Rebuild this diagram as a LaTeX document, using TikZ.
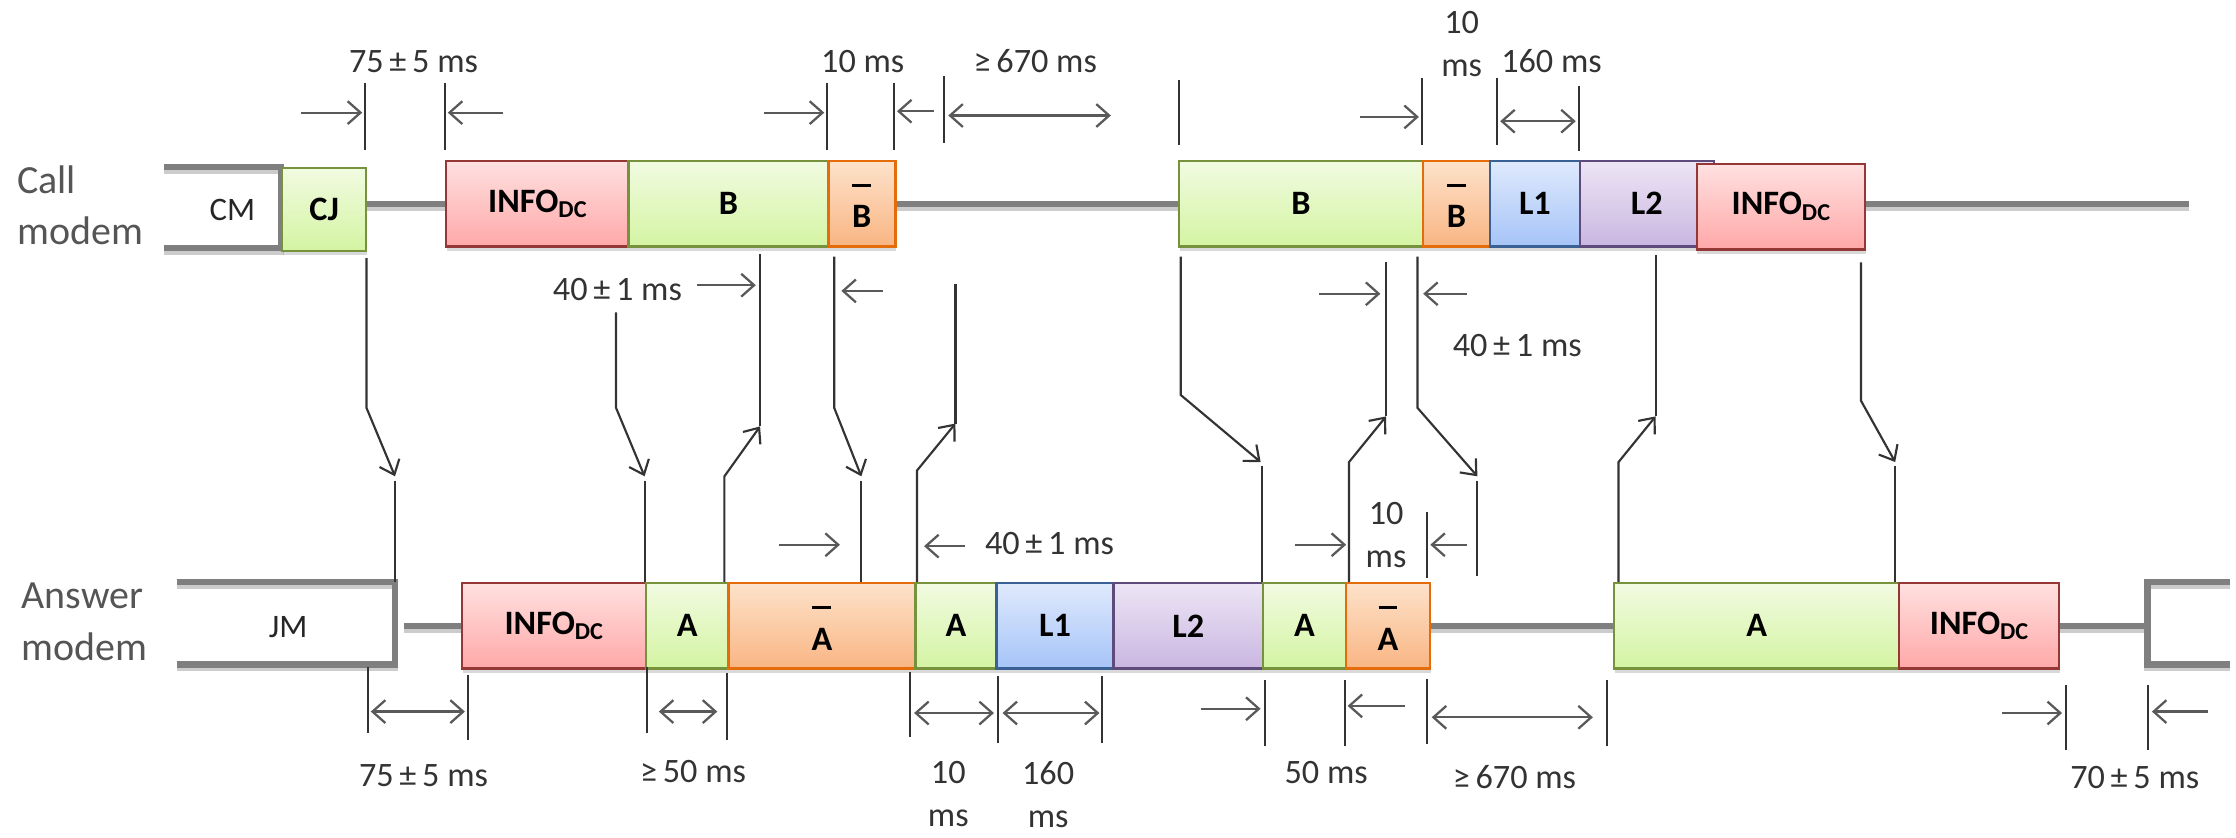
\documentclass[tikz,border=0pt]{standalone}
\usepackage{fontspec}
\setmainfont{Carlito}
\usetikzlibrary{arrows.meta,shadows}

\definecolor{grnT}{HTML}{F1FBE1}
\definecolor{grnB}{HTML}{D4F4A2}
\definecolor{grnD}{HTML}{76923C}
\definecolor{pnkT}{HTML}{FFE0E0}
\definecolor{pnkB}{HTML}{FFA8A8}
\definecolor{pnkD}{HTML}{953735}
\definecolor{orgT}{HTML}{FDE2CA}
\definecolor{orgB}{HTML}{F9B583}
\definecolor{orgD}{HTML}{E46C0A}
\definecolor{bluT}{HTML}{DFE9FC}
\definecolor{bluB}{HTML}{A6C4F8}
\definecolor{bluD}{HTML}{3A6195}
\definecolor{purT}{HTML}{ECE5F5}
\definecolor{purB}{HTML}{CAB6E1}
\definecolor{purD}{HTML}{5F4A7C}
\definecolor{busgray}{HTML}{7F7F7F}
\definecolor{ink}{HTML}{333333}
\definecolor{dimgray}{HTML}{595959}
\definecolor{modgray}{HTML}{555555}

\newcommand\bxfont{\fontsize{24}{28}\selectfont\bfseries}
\newcommand\dimfont{\fontsize{24}{30}\selectfont}
\newcommand\modfont{\fontsize{28}{36}\selectfont}
\newcommand\infodc{INFO\raisebox{-4pt}{\fontsize{17}{17}\selectfont DC}}
\newcommand\ovl[1]{\ooalign{\hfil\raisebox{29pt}{\rule{0.55em}{1.6pt}}\hfil\cr#1\cr}}

\begin{document}
\begin{tikzpicture}[x=1pt,y=-1pt,
  seg/.style={draw, line width=1.7pt, minimum height=60pt, inner sep=0pt,
    anchor=north west, font=\bxfont, text=black,
    drop shadow={shadow xshift=0.5pt, shadow yshift=-3pt, opacity=0.3}},
  grn/.style={seg, top color=grnT, bottom color=grnB, draw=grnD},
  pnk/.style={seg, top color=pnkT, bottom color=pnkB, draw=pnkD},
  org/.style={seg, top color=orgT, bottom color=orgB, draw=orgD},
  blu/.style={seg, top color=bluT, bottom color=bluB, draw=bluD},
  pur/.style={seg, top color=purT, bottom color=purB, draw=purD},
  barred/.style={text height=34pt, text depth=0pt},
  bus/.style={draw=busgray, line width=4.5pt},
  busshade/.style={draw=black!20, line width=4.5pt, yshift=-2.5pt},
  wire/.style={draw=ink, line width=1.5pt},
  arr/.style={-{Straight Barb[length=9pt,width=15pt]}},
  tick/.style={draw=ink, line width=1.4pt},
  dim/.style={draw=dimgray, line width=1.6pt, -{Straight Barb[length=9pt,width=16pt]}},
  ddim/.style={draw=dimgray, line width=1.6pt,
    {Straight Barb[length=9pt,width=16pt]}-{Straight Barb[length=9pt,width=16pt]}},
  lbl/.style={font=\dimfont, text=ink, inner sep=0pt, align=center},
  modem/.style={font=\modfont, text=modgray, align=left, inner sep=0pt, anchor=west}]

\useasboundingbox (0,0) rectangle (1568,587);

% ---------- modem names ----------
\node[modem] (callname) at (12,144) {Call\\modem};
\node[modem] (ansname) at (15,436) {Answer\\modem};

% ---------- idle lines and brackets (shadow first) ----------
\draw[busshade] (115,117) -- (197,117) -- (197,174) -- (115,174);
\draw[busshade] (256,143) -- (312,143);
\draw[busshade] (627,143) -- (826,143);
\draw[busshade] (1307,143) -- (1535,143);
\draw[busshade] (124,408) -- (277,408) -- (277,466) -- (124,466);
\draw[busshade] (283,439) -- (323,439);
\draw[busshade] (1002,439) -- (1131,439);
\draw[busshade] (1443,439) -- (1506,439);
\draw[busshade] (1564,408) -- (1506,408) -- (1506,466) -- (1564,466);
\draw[bus] (115,117) -- (197,117) -- (197,174) -- (115,174);
\draw[bus] (256,143) -- (312,143);
\draw[bus] (627,143) -- (826,143);
\draw[bus] (1307,143) -- (1535,143);
\draw[bus] (124,408) -- (277,408) -- (277,466) -- (124,466);
\draw[bus] (283,439) -- (323,439);
\draw[bus] (1002,439) -- (1131,439);
\draw[bus] (1443,439) -- (1506,439);
\draw[bus] (1564,408) -- (1506,408) -- (1506,466) -- (1564,466);

\node[font=\fontsize{23}{26}\selectfont, text=black!85, inner sep=0pt] (cm) at (163,147) {CM};
\node[font=\fontsize{23}{26}\selectfont, text=black!85, inner sep=0pt] (jm) at (202,440) {JM};

% ---------- call modem segments ----------
\node[grn, minimum width=59pt, minimum height=58pt] (cj) at (197,117) {CJ};
\node[pnk, minimum width=128pt] (info1) at (312,112) {\infodc};
\node[grn, minimum width=140pt] (b1) at (440,112) {B};
\node[org, minimum width=47pt, barred] (bb1) at (580,112) {\ovl{B}};
\node[grn, minimum width=171pt] (b2) at (826,112) {B};
\node[org, minimum width=47pt, barred] (bb2) at (997,112) {\ovl{B}};
\node[blu, minimum width=63pt] (l1t) at (1044,112) {L1};
\node[pur, minimum width=94pt] (l2t) at (1107,112) {L2};
\node[pnk, minimum width=118pt] (info2) at (1189,114) {\infodc};

% ---------- answer modem segments ----------
\node[pnk, minimum width=129pt] (info3) at (323,408) {\infodc};
\node[grn, minimum width=58pt] (a1) at (452,408) {A};
\node[org, minimum width=131pt, barred] (ab1) at (510,408) {\ovl{A}};
\node[grn, minimum width=57pt] (a2) at (641,408) {A};
\node[blu, minimum width=82pt] (l1b) at (698,408) {L1};
\node[pur, minimum width=105pt] (l2b) at (780,408) {L2};
\node[grn, minimum width=58pt] (a3) at (885,408) {A};
\node[org, minimum width=59pt, barred] (ab2) at (943,408) {\ovl{A}};
\node[grn, minimum width=200pt] (a4) at (1131,408) {A};
\node[pnk, minimum width=112pt] (info4) at (1331,408) {\infodc};

% ---------- signals exchanged between the modems ----------
% call -> answer
\coordinate (d1a) at (257,181);  \coordinate (d1b) at (257,286);  \coordinate (d1c) at (277,334);  \coordinate (d1d) at (277,337);
\coordinate (d2a) at (432,219);  \coordinate (d2b) at (432,286);  \coordinate (d2c) at (452,334);  \coordinate (d2d) at (452,337);
\coordinate (d3a) at (585,180);  \coordinate (d3b) at (585,286);  \coordinate (d3c) at (604,334);  \coordinate (d3d) at (604,337);
\coordinate (d4a) at (828,180);  \coordinate (d4b) at (828,277);  \coordinate (d4c) at (884,324);  \coordinate (d4d) at (885,327);
\coordinate (d5a) at (994,180);  \coordinate (d5b) at (994,286);  \coordinate (d5c) at (1036,334); \coordinate (d5d) at (1036,337);
\coordinate (d6a) at (1305,184); \coordinate (d6b) at (1305,281); \coordinate (d6c) at (1329,324); \coordinate (d6d) at (1329,327);
\coordinate (d5e) at (1036,404);
\draw[wire,arr] (d1a) -- (d1b) -- (d1c);  \draw[wire] (d1d) -- (d1d |- a1.north);
\draw[wire,arr] (d2a) -- (d2b) -- (d2c);  \draw[wire] (d2d) -- (d2d |- a1.north);
\draw[wire,arr] (d3a) -- (d3b) -- (d3c);  \draw[wire] (d3d) -- (d3d |- ab1.north);
\draw[wire,arr] (d4a) -- (d4b) -- (d4c);  \draw[wire] (d4d) -- (d4d |- a3.north);
\draw[wire,arr] (d5a) -- (d5b) -- (d5c);  \draw[wire] (d5d) -- (d5e);
\draw[wire,arr] (d6a) -- (d6b) -- (d6c);  \draw[wire] (d6d) -- (d6d |- info4.north);
% answer -> call
\coordinate (u1a) at (508,408);  \coordinate (u1b) at (508,334);  \coordinate (u1c) at (533,299);  \coordinate (u1d) at (533,178);
\coordinate (u2a) at (643,408);  \coordinate (u2b) at (643,330);  \coordinate (u2c) at (670,297);  \coordinate (u2d) at (670,199);
\coordinate (u3a) at (946,408);  \coordinate (u3b) at (946,324);  \coordinate (u3c) at (972,292);  \coordinate (u3d) at (972,184);
\coordinate (u4a) at (1135,408); \coordinate (u4b) at (1135,324); \coordinate (u4c) at (1161,292); \coordinate (u4d) at (1161,179);
\draw[wire,arr] (u1a) -- (u1b) -- (u1c);  \draw[wire] (u1c) -- (u1d);
\draw[wire,arr] (u2a) -- (u2b) -- (u2c);  \draw[wire] (u2c) -- (u2d);
\draw[wire,arr] (u3a) -- (u3b) -- (u3c);  \draw[wire] (u3c) -- (u3d);
\draw[wire,arr] (u4a) -- (u4b) -- (u4c);  \draw[wire] (u4c) -- (u4d);

% ---------- timing marks above the call modem ----------
\draw[tick] (256,58) -- (256,105);  \draw[tick] (312,58) -- (312,105);
\draw[dim] (211,79) -- (254,79);    \draw[dim] (353,79) -- (314,79);
\node[lbl] (t1) at (290,43) {75\,±\,5 ms};

\draw[tick] (580,58) -- (580,105);  \draw[tick] (627,58) -- (627,105);
\draw[dim] (536,79) -- (578,79);    \draw[dim] (655,78) -- (629,78);
\node[lbl] (t2) at (605,43) {10 ms};

\draw[tick] (662,53) -- (662,100);  \draw[tick] (827,56) -- (827,102);
\draw[ddim] (665,81) -- (779,81);
\node[lbl] (t3) at (726,43) {≥\,670 ms};

\draw[tick] (997,55) -- (997,102);
\draw[dim] (954,82) -- (995,82);
\node[lbl] (t4) at (1025,31) {10\\ms};

\draw[tick] (1050,55) -- (1050,102); \draw[tick] (1107,60) -- (1107,106);
\draw[ddim] (1052,85) -- (1105,85);
\node[lbl] (t5) at (1088,43) {160 ms};

% ---------- timing marks between the rows ----------
\node[lbl] (m1) at (433,203) {40\,±\,1 ms};
\draw[dim] (489,200) -- (530,200);
\draw[dim] (619,204) -- (590,204);
\draw[dim] (925,206) -- (968,206);
\draw[dim] (1029,206) -- (998,206);
\node[lbl] (m2) at (1064,242) {40\,±\,1 ms};

\draw[dim] (546,382) -- (589,382);
\draw[dim] (677,383) -- (648,383);
\node[lbl] (m3) at (736,381) {40\,±\,1 ms};
\draw[dim] (908,382) -- (944,382);
\draw[tick] (1001,359) -- (1001,405);
\draw[dim] (1029,382) -- (1003,382);
\node[lbl] (m4) at (972,375) {10\\ms};

% ---------- timing marks below the answer modem ----------
\draw[tick] (258,468) -- (258,514);  \draw[tick] (328,473) -- (328,519);
\draw[ddim] (260,499) -- (326,499);
\node[lbl] (b1t) at (297,544) {75\,±\,5 ms};

\draw[tick] (454,468) -- (454,514);  \draw[tick] (510,472) -- (510,519);
\draw[ddim] (462,499) -- (503,499);
\node[lbl] (b2t) at (486,541) {≥\,50 ms};

\draw[tick] (638,471) -- (638,517);  \draw[tick] (700,474) -- (700,521);  \draw[tick] (773,474) -- (773,521);
\draw[ddim] (641,500) -- (697,500);
\draw[ddim] (703,500) -- (771,500);
\node[lbl] (b3t) at (665,557) {10\\ms};
\node[lbl] (b4t) at (735,557) {160\\ms};

\draw[tick] (887,477) -- (887,523);  \draw[tick] (943,477) -- (943,523);
\draw[dim] (842,497) -- (884,497);
\draw[dim] (985,495) -- (945,495);
\node[lbl] (b5t) at (930,542) {50 ms};

\draw[tick] (1001,476) -- (1001,522); \draw[tick] (1127,477) -- (1127,523);
\draw[ddim] (1004,503) -- (1117,503);
\node[lbl] (b6t) at (1062,545) {≥\,670 ms};

\draw[tick] (1449,480) -- (1449,526); \draw[tick] (1506,480) -- (1506,526);
\draw[dim] (1404,500) -- (1446,500);
\draw[dim] (1548,499) -- (1509,499);
\node[lbl] (b7t) at (1497,545) {70\,±\,5 ms};

\end{tikzpicture}
\end{document}
